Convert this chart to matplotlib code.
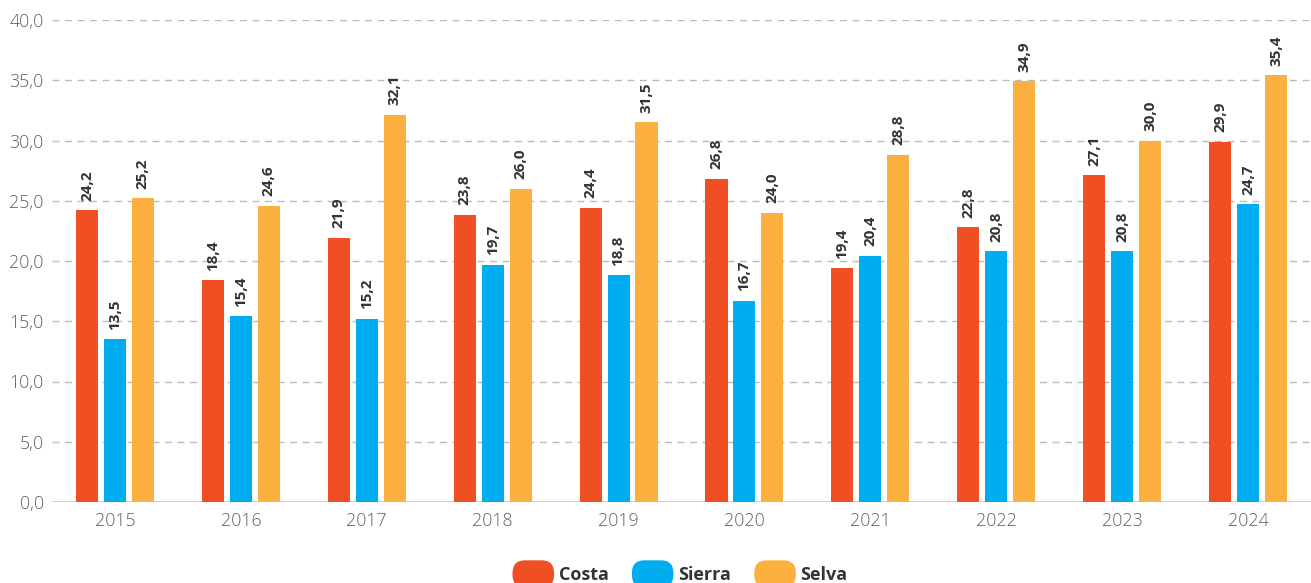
import numpy as np
import matplotlib
matplotlib.use("Agg")
import matplotlib.pyplot as plt
from matplotlib.patches import FancyBboxPatch
from matplotlib.legend_handler import HandlerPatch

plt.rcParams['font.family'] = ['Open Sans', 'DejaVu Sans']

years = ['2015', '2016', '2017', '2018', '2019', '2020', '2021', '2022', '2023', '2024']
costa = [24.2, 18.4, 21.9, 23.8, 24.4, 26.8, 19.4, 22.8, 27.1, 29.9]
sierra = [13.5, 15.4, 15.2, 19.7, 18.8, 16.7, 20.4, 20.8, 20.8, 24.7]
selva = [25.2, 24.6, 32.1, 26.0, 31.5, 24.0, 28.8, 34.9, 30.0, 35.4]

series = [('Costa', costa, '#F04E23'), ('Sierra', sierra, '#00AEEF'), ('Selva', selva, '#FBB040')]


class RoundHandler(HandlerPatch):
    def create_artists(self, legend, orig_handle, xdescent, ydescent, width, height, fontsize, trans):
        p = FancyBboxPatch((-xdescent, -ydescent - 4), width, height + 8,
                           boxstyle="round,pad=0,rounding_size=9",
                           facecolor=orig_handle.get_facecolor(), edgecolor='none',
                           transform=trans)
        return [p]


fig = plt.figure(figsize=(13.11, 5.83), dpi=100)
ax = fig.add_axes([52 / 1311, 81 / 583, 1 - 52 / 1311, 482 / 583])

x = np.arange(len(years))
w = 0.175
step = 0.222
handles = []
for i, (name, vals, col) in enumerate(series):
    pos = x + (i - 1) * step
    bars = ax.bar(pos, vals, width=w, color=col, label=name, zorder=3)
    handles.append(bars[0])
    for xp, v in zip(pos, vals):
        ax.annotate(f"{v:.1f}".replace('.', ','), (xp, v), xytext=(0, 7),
                    textcoords='offset points', rotation=90, ha='center', va='bottom',
                    fontsize=11, fontweight='bold', color='#333333', zorder=4)

ax.set_xlim(-0.5, len(years) - 0.5)
ax.set_ylim(0, 40)
ax.set_yticks(np.arange(0, 41, 5))
ax.set_yticklabels([f"{t:.1f}".replace('.', ',') for t in np.arange(0, 41, 5)])
ax.set_xticks(x)
ax.set_xticklabels(years)
ax.tick_params(axis='both', length=0, labelsize=12.8, labelcolor='#606060')
ax.tick_params(axis='x', pad=7)
ax.tick_params(axis='y', pad=6)
for lab in ax.get_xticklabels() + ax.get_yticklabels():
    lab.set_fontweight('light')

for t in np.arange(5, 41, 5):
    ax.axhline(t, color='#bbbbbb', linestyle=(0, (5, 4)), linewidth=1, zorder=1)
ax.axhline(0, color='#cccccc', linewidth=2, zorder=2)

for s in ax.spines.values():
    s.set_visible(False)

leg = fig.legend(handles, [s[0] for s in series], loc='center', bbox_to_anchor=(680 / 1311, 1 - 575 / 583),
                 ncol=3, frameon=False, handler_map={type(handles[0]): RoundHandler()},
                 handlelength=2.3, handleheight=1.0, handletextpad=0.25, columnspacing=1.3,
                 prop={'weight': 'bold', 'size': 13})
for t in leg.get_texts():
    t.set_color('#333333')

fig.savefig('out.png', dpi=100)
